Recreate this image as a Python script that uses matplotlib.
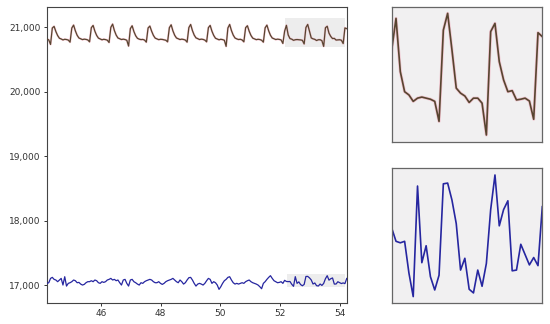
import numpy as np
import matplotlib
matplotlib.use("Agg")
import matplotlib.pyplot as plt
from matplotlib.ticker import FuncFormatter
from matplotlib.patches import Rectangle

# ── Data ─────────────────────────────────────────────────────────────────────
T_START, T_END = 44.2, 54.23

pulse = [
    20815, 20800, 20730, 20985, 21010,
    20930, 20868, 20826, 20815, 20800, 20810, 20806, 20798, 20765, 20985, 21030,
    20940, 20872, 20830, 20818, 20805, 20812, 20808, 20800, 20770, 20990, 21025,
    20935, 20870, 20828, 20815, 20802, 20810, 20805, 20796, 20760, 20995, 21045,
    20945, 20875, 20830, 20818, 20806, 20812, 20806, 20795, 20705, 20975, 21020,
    20930, 20865, 20825, 20812, 20805, 20808, 20798, 20765, 20985, 21015,
    20935, 20870, 20828, 20816, 20804, 20810, 20808, 20802, 20795, 20770, 20990, 21035,
    20940, 20872, 20830, 20818, 20806, 20812, 20807, 20798, 20765, 20992, 21040,
    20945, 20875, 20832, 20820, 20806, 20812, 20808, 20797, 20770, 20990, 21025,
    20935, 20870, 20826, 20814, 20802, 20810, 20805, 20795, 20700, 20985, 21040,
    20945, 20875, 20830, 20816, 20806, 20810, 20800, 20770, 20990, 21020,
    20935, 20870, 20828, 20816, 20804, 20810, 20806, 20796, 20765, 20988, 21030,
    20940, 20872, 20830, 20818, 20806, 20812, 20808, 20800, 20745,
    20938, 21026, 20877, 20821, 20812, 20794, 20803, 20806, 20803, 20800, 20794,
    20738, 20993, 21040, 20938, 20831, 20817, 20809, 20791, 20803, 20803, 20789,
    20700, 20989, 21012, 20905, 20854, 20821, 20824, 20798, 20800, 20803, 20795,
    20744, 20986, 20975,
]

resp = [
    17026, 17036, 17103, 17119, 17088, 17078, 17052, 17078, 17103, 17000,
    17129, 16984, 17026, 17036, 17052, 17078, 17067, 17036, 17041, 17015,
    17000, 17010, 17036, 17052, 17052, 17067, 17052, 17078, 17067, 17036,
    17026, 17052, 17041, 17052, 17078, 17088, 17103, 17078, 17088, 17067,
    17078, 17036, 17000, 17078, 17088, 17026, 16984, 17078, 17088, 17052,
    17036, 17015, 17000, 17036, 17026, 17052, 17067, 17078, 17088, 17078,
    17052, 17036, 17036, 17052, 17026, 17010, 17026, 17052, 17067, 17078,
    17088, 17103, 17078, 17052, 17036, 17078, 17052, 17015, 17036, 17078,
    17114, 17119, 17078, 17026, 16984, 17015, 17026, 17015, 17000, 17026,
    17067, 17103, 17088, 17026, 17052, 17036, 17000, 16933, 16974, 17026,
    17067, 17088, 17119, 17129, 17078, 17036, 17015, 17026, 17015, 17026,
    17036, 17026, 17052, 17067, 17078, 17052, 17036, 17026, 17015, 17000,
    16974, 16943, 17026, 17052, 17088, 17119, 17145, 17103, 17067, 17052,
    17036, 17041, 17052, 17026,
    17073, 17055, 17053, 17055, 17012, 16980, 17130, 17026, 17049, 17007,
    16989, 17009, 17133, 17134, 17111, 17079, 17016, 17032, 16990, 16985,
    17016, 16994, 17025, 17098, 17145, 17076, 17098, 17110, 17015, 17016,
    17051, 17037, 17023, 17033, 17022, 17102,
]

yticks = [17000, 18000, 19000, 20000, 21000]
xticks = [46, 48, 50, 52, 54]

ZOOM_START = 134          # first sample shown in the zoomed panels
RECT_TOP = (52.15, 54.16, 20695, 21135)
RECT_BOT = (52.22, 54.16, 16964, 17166)

t = np.linspace(T_START, T_END, len(pulse))

# ── Style ────────────────────────────────────────────────────────────────────
PULSE_C = "#574530"
GLOW_C = "#f06080"
RESP_C = "#2626a0"
INSET_BG = "#f1f0f1"

fig = plt.figure(figsize=(5.5, 3.24), dpi=100)
fig.patch.set_facecolor("white")

# main axes
ax = fig.add_axes([0.0849, 0.0657, 0.5455, 0.9136])
for x0, x1, y0, y1 in (RECT_TOP, RECT_BOT):
    ax.add_patch(Rectangle((x0, y0), x1 - x0, y1 - y0, facecolor="#ededed",
                           edgecolor="none", zorder=1))
ax.plot(t, pulse, color=GLOW_C, lw=1.6, alpha=0.3, zorder=2)
ax.plot(t, pulse, color=PULSE_C, lw=0.9, zorder=3)
ax.plot(t, resp, color=RESP_C, lw=0.9, zorder=3)
ax.set_xlim(44.19, 54.23)
ax.set_ylim(16726, 21315)
ax.set_xticks(xticks)
ax.set_yticks(yticks)
ax.yaxis.set_major_formatter(FuncFormatter(lambda v, p: f"{v:,.0f}"))
ax.tick_params(labelsize=6.5, length=2.5, width=0.7, colors="#333", pad=2)
for s in ax.spines.values():
    s.set_color("#444")
    s.set_linewidth(0.8)

# zoomed insets
ax_top = fig.add_axes([0.7122, 0.5627, 0.2738, 0.4167])
ax_bot = fig.add_axes([0.7122, 0.0639, 0.2738, 0.4167])

ax_top.plot(t, pulse, color=GLOW_C, lw=2.2, alpha=0.3)
ax_top.plot(t, pulse, color=PULSE_C, lw=1.2)
ax_bot.plot(t, resp, color=RESP_C, lw=1.2)

for a, vals in ((ax_top, pulse), (ax_bot, resp)):
    sel = vals[ZOOM_START:]
    lo, hi = min(sel), max(sel)
    pad = (hi - lo) * 0.055
    a.set_xlim(t[ZOOM_START], t[-1])
    a.set_ylim(lo - pad, hi + pad)
    a.set_facecolor(INSET_BG)
    a.set_xticks([])
    a.set_yticks([])
    for s in a.spines.values():
        s.set_color("#666")
        s.set_linewidth(0.9)

fig.savefig("out.png", dpi=100, facecolor="white")
